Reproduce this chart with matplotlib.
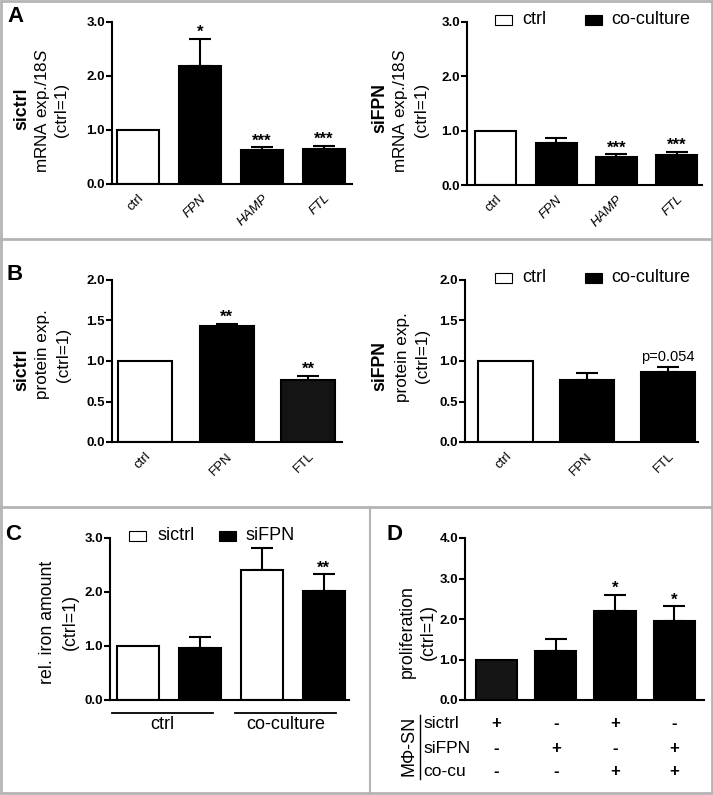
import matplotlib
matplotlib.use('Agg')
import matplotlib.pyplot as plt
from matplotlib.patches import Rectangle
from matplotlib.lines import Line2D
import matplotlib.transforms as mtransforms

plt.rcParams['font.family'] = ['Liberation Sans', 'DejaVu Sans']
plt.rcParams['mathtext.fontset'] = 'custom'
plt.rcParams['mathtext.rm'] = 'Liberation Sans'
plt.rcParams['mathtext.it'] = 'Liberation Sans:italic'
plt.rcParams['mathtext.bf'] = 'Liberation Sans:bold'

W, H = 713, 795

# ---------------- data ----------------
A_cats = ['ctrl', 'FPN', 'HAMP', 'FTL']
A_italic = [False, True, True, True]
A_fill = ['white', 'black', 'black', 'black']
A_sictrl_mean = [1.0, 2.18, 0.63, 0.65]
A_sictrl_err = [0.0, 0.51, 0.05, 0.06]
A_sictrl_stars = ['', '*', '***', '***']
A_siFPN_mean = [1.0, 0.77, 0.52, 0.56]
A_siFPN_err = [0.0, 0.10, 0.05, 0.05]
A_siFPN_stars = ['', '', '***', '***']
A_ticks = [0.0, 1.0, 2.0, 3.0]

B_cats = ['ctrl', 'FPN', 'FTL']
B_fill_sictrl = ['white', 'black', '#141414']
B_fill_siFPN = ['white', 'black', 'black']
B_sictrl_mean = [1.0, 1.43, 0.77]
B_sictrl_err = [0.0, 0.03, 0.05]
B_sictrl_stars = ['', '**', '**']
B_siFPN_mean = [1.0, 0.76, 0.86]
B_siFPN_err = [0.0, 0.09, 0.07]
B_siFPN_stars = ['', '', 'p=0.054']
B_ticks = [0.0, 0.5, 1.0, 1.5, 2.0]

C_groups = ['ctrl', 'co-culture']
C_series = ['sictrl', 'siFPN']
C_sictrl_mean = [1.0, 2.40]
C_sictrl_err = [0.0, 0.41]
C_siFPN_mean = [0.96, 2.01]
C_siFPN_err = [0.20, 0.32]
C_sictrl_stars = ['', '']
C_siFPN_stars = ['', '**']
C_ticks = [0.0, 1.0, 2.0, 3.0]

D_mean = [1.0, 1.22, 2.19, 1.96]
D_err = [0.0, 0.29, 0.41, 0.35]
D_stars = ['', '', '*', '*']
D_fill = ['#151515', 'black', 'black', 'black']
D_rows = ['sictrl', 'siFPN', 'co-cu']
D_table = [['+', '-', '+', '-'],
           ['-', '+', '-', '+'],
           ['-', '-', '+', '+']]
D_ticks = [0.0, 1.0, 2.0, 3.0, 4.0]

# ---------------- helpers ----------------
fig = plt.figure(figsize=(W / 100, H / 100), dpi=100)
fig.patch.set_facecolor('white')


def fx(x):
    return x / W


def fy(y):
    return 1 - y / H


def make_ax(x0, x1, y0, y1):
    return fig.add_axes([fx(x0), fy(y1), (x1 - x0) / W, (y1 - y0) / H])


def style_ax(ax, ticks, ymax, xlim):
    ax.set_ylim(0, ymax)
    ax.set_xlim(*xlim)
    for s in ['top', 'right']:
        ax.spines[s].set_visible(False)
    ax.spines['left'].set_linewidth(1.5)
    ax.spines['bottom'].set_linewidth(1.5)
    ax.set_yticks(ticks)
    ax.set_yticklabels(['%.1f' % t for t in ticks], fontsize=9.5, fontweight='bold')
    ax.tick_params(axis='y', direction='out', length=4, width=1.5, pad=1)
    ax.tick_params(axis='x', length=0)
    ax.patch.set_alpha(0)


def bars(ax, xs, means, errs, fills, width, stars, star_fs=12):
    ax.bar(xs, means, width=width, color=fills, edgecolor='black', linewidth=1.5, zorder=2)
    for x, m, e, s in zip(xs, means, errs, stars):
        if e > 0:
            ax.errorbar([x], [m], yerr=[[0], [e]], fmt='none', ecolor='black',
                        elinewidth=1.5, capsize=8, capthick=1.5, zorder=1, clip_on=False)
        if s:
            if s.startswith('p='):
                ax.annotate(s, (x, m + e), xytext=(0, 2), textcoords='offset points',
                            ha='center', va='bottom', fontsize=10.5, annotation_clip=False)
            else:
                ax.annotate(s, (x, m + e), xytext=(0, -1), textcoords='offset points',
                            ha='center', va='bottom', fontsize=star_fs,
                            fontweight='bold', annotation_clip=False)


def xlabels(ax, xs, cats, italic=None):
    ax.set_xticks(xs)
    ax.set_xticklabels(cats, rotation=45, ha='right', va='top', rotation_mode='anchor', fontsize=9.5)
    ax.tick_params(axis='x', pad=6)
    if italic:
        for lab, it in zip(ax.get_xticklabels(), italic):
            if it:
                lab.set_fontstyle('italic')


def vtext(x, y, s, **kw):
    fig.text(fx(x), fy(y), s, rotation=90, ha='center', va='center', **kw)


def legend_item(x_box, y_c, fill, label, x_text, fs=13):
    r = Rectangle((fx(x_box), fy(y_c + 5)), 17 / W, 10 / H, transform=fig.transFigure,
                  facecolor=fill, edgecolor='black', linewidth=0.8)
    fig.patches.append(r)
    fig.text(fx(x_text), fy(y_c), label, ha='left', va='center', fontsize=fs)


YL = 12.3   # y label font size
YB = 12.8   # bold y label font size

# ---------------- panel A ----------------
xsA = list(range(len(A_cats)))
axA1 = make_ax(112, 352, 22, 184)
style_ax(axA1, A_ticks, 3.0, (-0.42, 3.45))
bars(axA1, xsA, A_sictrl_mean, A_sictrl_err, A_fill, 0.68, A_sictrl_stars)
xlabels(axA1, xsA, A_cats, A_italic)

axA2 = make_ax(467, 702, 22, 185)
style_ax(axA2, A_ticks, 3.0, (-0.48, 3.42))
bars(axA2, xsA, A_siFPN_mean, A_siFPN_err, A_fill, 0.68, A_siFPN_stars)
xlabels(axA2, xsA, A_cats, A_italic)

vtext(22, 109, 'sictrl', fontsize=YB, fontweight='bold')
vtext(42, 111, 'mRNA exp./$\\mathit{18S}$', fontsize=YL)
vtext(62, 110, '(ctrl=1)', fontsize=YL)
vtext(380, 108, 'siFPN', fontsize=YB, fontweight='bold')
vtext(401, 111, 'mRNA exp./$\\mathit{18S}$', fontsize=YL)
vtext(422, 110, '(ctrl=1)', fontsize=YL)

legend_item(495, 20, 'white', 'ctrl', 522)
legend_item(585, 20, 'black', 'co-culture', 611)

# ---------------- panel B ----------------
xsB = list(range(len(B_cats)))
axB1 = make_ax(112, 342, 280, 442)
style_ax(axB1, B_ticks, 2.0, (-0.4, 2.41))
bars(axB1, xsB, B_sictrl_mean, B_sictrl_err, B_fill_sictrl, 0.66, B_sictrl_stars)
xlabels(axB1, xsB, B_cats)

axB2 = make_ax(465, 698, 280, 442)
style_ax(axB2, B_ticks, 2.0, (-0.5, 2.37))
bars(axB2, xsB, B_siFPN_mean, B_siFPN_err, B_fill_siFPN, 0.67, B_siFPN_stars)
xlabels(axB2, xsB, B_cats)

vtext(22, 370, 'sictrl', fontsize=YB, fontweight='bold')
vtext(42, 354, 'protein exp.', fontsize=YL)
vtext(63, 355, '(ctrl=1)', fontsize=YL)
vtext(380, 366, 'siFPN', fontsize=YB, fontweight='bold')
vtext(402, 357, 'protein exp.', fontsize=YL)
vtext(423, 356, '(ctrl=1)', fontsize=YL)

legend_item(495, 278, 'white', 'ctrl', 522)
legend_item(585, 278, 'black', 'co-culture', 611)

# ---------------- panel C ----------------
axC = make_ax(110, 349, 538, 700)
style_ax(axC, C_ticks, 3.0, (-0.46, 3.41))
ng = len(C_groups)
xs_sictrl = [2 * g for g in range(ng)]
xs_siFPN = [2 * g + 1 for g in range(ng)]
bars(axC, xs_sictrl, C_sictrl_mean, C_sictrl_err, ['white'] * ng, 0.68, C_sictrl_stars)
bars(axC, xs_siFPN, C_siFPN_mean, C_siFPN_err, ['black'] * ng, 0.68, C_siFPN_stars)
axC.set_xticks([])
trC = mtransforms.blended_transform_factory(axC.transData, axC.transAxes)
for g, name in enumerate(C_groups):
    c = 2 * g + 0.5
    axC.add_line(Line2D([c - 0.93, c + 0.7], [-0.08, -0.08], transform=trC,
                        color='black', linewidth=1.3, clip_on=False))
    axC.text(c - 0.12, -0.1, name, transform=trC, ha='center', va='top', fontsize=13)

vtext(47, 622, 'rel. iron amount', fontsize=12.8)
vtext(70, 622, '(ctrl=1)', fontsize=12.8)

legend_item(129, 536, 'white', C_series[0], 157)
legend_item(219, 536, 'black', C_series[1], 246)

# ---------------- panel D ----------------
xsD = list(range(len(D_mean)))
axD = make_ax(465, 704, 538, 700)
style_ax(axD, D_ticks, 4.0, (-0.53, 3.5))
bars(axD, xsD, D_mean, D_err, D_fill, 0.7, D_stars)
axD.set_xticks([])
trD = mtransforms.blended_transform_factory(axD.transData, axD.transAxes)
trDlab = mtransforms.blended_transform_factory(fig.transFigure, axD.transAxes)
row_y = [-0.148, -0.302, -0.444]
for r, (rname, vals) in enumerate(zip(D_rows, D_table)):
    axD.text(fx(423), row_y[r], rname, transform=trDlab, ha='left', va='center',
             fontsize=12.5, clip_on=False)
    for x, v in zip(xsD, vals):
        axD.text(x, row_y[r], v, transform=trD, ha='center', va='center', fontsize=12,
                 fontweight='bold')
vtext(409, 746, 'MΦ-SN', fontsize=13)
fig.add_artist(Line2D([fx(420), fx(420)], [fy(715), fy(779)], transform=fig.transFigure,
                      color='black', linewidth=1.0))

vtext(407, 632, 'proliferation', fontsize=12.8)
vtext(428, 632, '(ctrl=1)', fontsize=12.8)

# ---------------- panel letters ----------------
for L, x, y in [('A', 7, 17), ('B', 7, 275), ('C', 5, 535), ('D', 386, 535)]:
    fig.text(fx(x), fy(y), L, ha='left', va='center', fontsize=16, fontweight='bold')

# ---------------- frame / dividers ----------------
gray = '#b4b4b4'
fig.add_artist(Rectangle((fx(1), fy(793)), 711 / W, 792 / H, transform=fig.transFigure,
                         fill=False, edgecolor=gray, linewidth=2))
fig.add_artist(Line2D([0, 1], [fy(239), fy(239)], transform=fig.transFigure, color=gray, linewidth=2))
fig.add_artist(Line2D([0, 1], [fy(507), fy(507)], transform=fig.transFigure, color=gray, linewidth=2))
fig.add_artist(Line2D([fx(370), fx(370)], [fy(507), fy(794)], transform=fig.transFigure,
                      color=gray, linewidth=1.5))

fig.savefig('out.png', dpi=100)
